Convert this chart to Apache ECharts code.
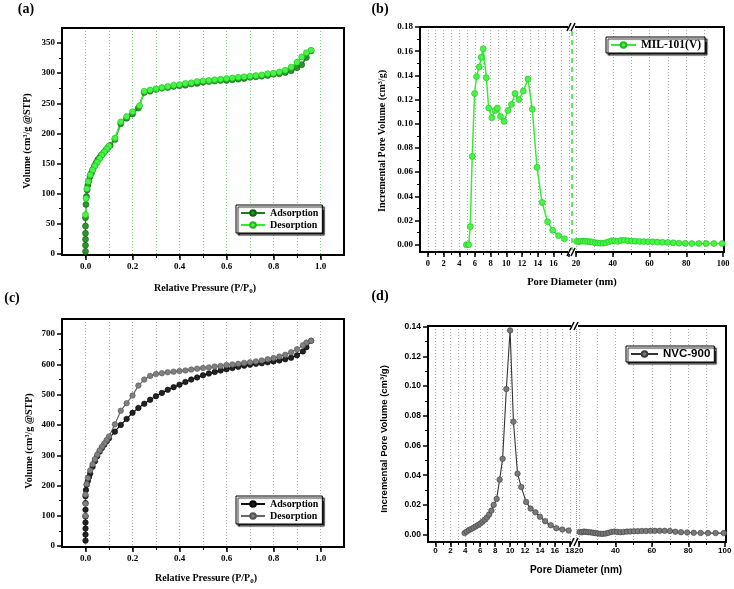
<!DOCTYPE html>
<html><head><meta charset="utf-8">
<script src="https://cdn.jsdelivr.net/npm/echarts@6/dist/echarts.min.js"></script>
<style>html,body{margin:0;padding:0;background:#fff}#c{width:734px;height:589px}</style>
</head><body><div id="c"></div>
<script>
// ================= DATA =================
// (a) MIL-101(V) N2 isotherm
const aAdsX = [0,0,0,0,0,0,0.002,0.004,0.007,0.01,0.014,0.019,0.025,0.031,0.038,0.045,0.052,0.06,0.068,0.077,0.086,0.095,0.105,0.125,0.15,0.175,0.2,0.225,0.25,0.275,0.3,0.325,0.35,0.375,0.4,0.425,0.45,0.475,0.5,0.525,0.55,0.575,0.6,0.625,0.65,0.675,0.7,0.725,0.75,0.775,0.8,0.825,0.85,0.875,0.9,0.92,0.94,0.96];
const aAdsY = [4,14,24,34,46,60,82,95,106,114,121,128,134,140,146,151,156,160,164,168,172,176,180,190,216,225,232,242,268,270,273,275,276,278,279,280,282,283,285,286,287,288,288,289,290,291,293,294,295,296,298,299,301,304,309,314,326,337];
const aDesX = [0.96,0.94,0.92,0.9,0.875,0.85,0.825,0.8,0.775,0.75,0.725,0.7,0.675,0.65,0.625,0.6,0.575,0.55,0.525,0.5,0.475,0.45,0.425,0.4,0.375,0.35,0.325,0.3,0.275,0.25,0.23,0.2,0.175,0.15,0.125,0.1,0.09,0.08,0.07,0.06,0.05,0.04,0.03,0.02,0.012,0.006,0.002,0];
const aDesY = [338,334,327,318,310,305,302,300,299,297,296,295,294,293,292,291,290,289,288,287,286,284,283,281,280,278,276,274,272,270,246,236,228,219,192,179,174,169,164,158,152,146,139,131,120,108,92,65];

// (b) MIL-101(V) pore size distribution
const bLeftX = [4.9,5.2,5.4,5.65,5.95,6.2,6.55,6.8,7.05,7.45,7.75,8.15,8.55,8.85,9.25,9.7,10.2,10.65,11.1,11.6,12.15,12.75,13.3,13.9,14.55,15.25,15.9,16.65,17.4];
const bLeftY = [0,0,0.015,0.073,0.125,0.139,0.147,0.155,0.162,0.138,0.113,0.105,0.111,0.113,0.106,0.102,0.111,0.116,0.125,0.12,0.127,0.137,0.112,0.064,0.035,0.019,0.012,0.0075,0.005];
const bRightX = [20.3,21.5,22.7,23.9,25.1,26.4,27.7,29.0,30.4,31.8,33.2,34.7,36.2,37.8,39.4,41.0,42.7,44.5,46.3,48.2,50.2,52.3,54.5,56.8,59.2,61.7,64.3,67.0,69.9,72.9,76.0,79.4,83.0,86.8,90.8,95.0,99.5];
const bRightY = [0.0028,0.0025,0.003,0.003,0.0028,0.0027,0.0025,0.0022,0.0017,0.0014,0.0013,0.0013,0.0017,0.0025,0.0033,0.0032,0.0028,0.0036,0.0038,0.0033,0.003,0.0029,0.0027,0.0026,0.0025,0.0024,0.0022,0.002,0.0019,0.0016,0.0013,0.0011,0.001,0.001,0.001,0.001,0.001];

// (c) NVC-900 N2 isotherm
const cAdsX = [0,0,0,0,0,0,0,0,0.002,0.005,0.01,0.015,0.02,0.03,0.04,0.05,0.06,0.07,0.08,0.09,0.1,0.125,0.15,0.175,0.2,0.225,0.25,0.275,0.3,0.325,0.35,0.375,0.4,0.425,0.45,0.475,0.5,0.525,0.55,0.575,0.6,0.625,0.65,0.675,0.7,0.725,0.75,0.775,0.8,0.825,0.85,0.875,0.9,0.925,0.94,0.96];
const cAdsY = [18,38,58,78,98,120,142,165,185,203,215,228,240,262,280,297,312,324,335,346,356,378,400,420,440,456,470,483,495,506,516,525,533,542,550,557,564,570,575,580,584,588,592,596,599,602,604,607,610,613,617,622,630,643,657,678];
const cDesX = [0.96,0.94,0.925,0.9,0.875,0.85,0.825,0.8,0.775,0.75,0.725,0.7,0.675,0.65,0.625,0.6,0.575,0.55,0.525,0.5,0.475,0.45,0.425,0.4,0.375,0.35,0.325,0.3,0.275,0.25,0.225,0.2,0.175,0.15,0.125,0.1,0.09,0.08,0.07,0.06,0.05,0.04,0.03,0.02,0.01,0.005,0,0,0];
const cDesY = [678,672,663,650,640,632,626,621,617,613,610,607,605,602,600,598,595,593,590,588,586,583,580,578,576,574,571,568,562,550,530,497,472,447,402,362,350,339,328,316,302,287,270,250,225,205,170,140,100];

// (d) NVC-900 pore size distribution
const dLeftX = [3.9,4.2,4.5,4.8,5.1,5.4,5.7,6.0,6.3,6.6,6.9,7.2,7.5,7.8,8.2,8.6,9.0,9.5,10.0,10.45,11.0,11.5,12.15,12.75,13.4,14.0,14.7,15.45,16.2,17.0,17.85];
const dLeftY = [0.001,0.002,0.003,0.0038,0.0046,0.0055,0.0064,0.0074,0.0086,0.01,0.0115,0.0135,0.0162,0.02,0.024,0.037,0.051,0.098,0.1375,0.076,0.041,0.032,0.022,0.0175,0.015,0.012,0.009,0.0063,0.0043,0.0034,0.0027];
const dRightX = [20.3,21.5,22.7,23.9,25.1,26.4,27.7,29.0,30.4,31.8,33.2,34.7,36.2,37.8,39.4,41.0,42.7,44.5,46.3,48.2,50.2,52.3,54.5,56.8,59.2,61.7,64.3,67.0,69.9,72.9,76.0,79.4,83.0,86.8,90.8,95.0,99.5];
const dRightY = [0.0018,0.0015,0.002,0.0018,0.0016,0.0015,0.0012,0.001,0.0007,0.0005,0.0005,0.0007,0.0012,0.0018,0.002,0.0018,0.0016,0.0018,0.002,0.0021,0.0022,0.0023,0.0024,0.0024,0.0025,0.0025,0.0025,0.0025,0.0024,0.0019,0.0016,0.0014,0.0012,0.0011,0.001,0.001,0.001];

// tick labels / ticks
const isoXMajor = [0,0.2,0.4,0.6,0.8,1.0];
const isoXMinor = [0,0.1,0.2,0.3,0.4,0.5,0.6,0.7,0.8,0.9,1.0];
const aYMajor = [0,50,100,150,200,250,300,350];
const aYMinor = [25,75,125,175,225,275,325];
const cYMajor = [0,100,200,300,400,500,600,700];
const cYMinor = [50,150,250,350,450,550,650];
const bYMajor = [0,0.02,0.04,0.06,0.08,0.10,0.12,0.14,0.16,0.18];
const bYMinor = [0.01,0.03,0.05,0.07,0.09,0.11,0.13,0.15,0.17];
const dYMajor = [0,0.02,0.04,0.06,0.08,0.10,0.12,0.14];
const dYMinor = [0.01,0.03,0.05,0.07,0.09,0.11,0.13];
const poreLeftTicks = [0,2,4,6,8,10,12,14,16,18];
const bPoreLeftLabels = [0,2,4,6,8,10,12,14,16];
const dPoreLeftLabels = [0,2,4,6,8,10,12,14,16,18];
const poreLeftMinor = [0,1,2,3,4,5,6,7,8,9,10,11,12,13,14,15,16,17,18];
const poreRightTicks = [20,40,60,80,100];
const poreRightMinor = [20,30,40,50,60,70,80,90];

// ================= CHART =================
const SERIF = "'Liberation Serif','Times New Roman',serif";
const SANS = "'Liberation Sans',Arial,sans-serif";
const xAxes = [], yAxes = [];

function xSet(gi, o) {
  const base = {gridIndex: gi, type: 'value', min: o.min, max: o.max, position: 'bottom'};
  const i = xAxes.length;
  xAxes.push(Object.assign({}, base, {
    axisLine: {show: true, onZero: false, lineStyle: {color: '#000', width: 2}},
    axisTick: {show: true, inside: false, length: 5, customValues: o.major, lineStyle: {color: '#000', width: 1.5}},
    axisLabel: {show: true, customValues: o.labels, formatter: o.fmt, margin: o.margin || 7, color: '#000',
      fontFamily: o.font, fontWeight: 'bold', fontSize: o.fs || 9},
    splitLine: {show: false}
  }));
  xAxes.push(Object.assign({}, base, {
    axisLine: {show: false, onZero: false},
    axisTick: {show: true, inside: false, length: 3, customValues: o.minor, lineStyle: {color: '#000', width: 1}},
    axisLabel: {show: false},
    splitLine: {show: true, lineStyle: {color: o.gridColor, type: [1, 2], width: 1}}
  }));
  xAxes.push(Object.assign({}, base, {
    position: 'top',
    axisLine: {show: true, onZero: false, lineStyle: {color: '#000', width: 2}},
    axisTick: {show: false}, axisLabel: {show: false}, splitLine: {show: false}
  }));
  return i;
}
function ySet(gi, o) {
  const base = {gridIndex: gi, type: 'value', min: o.min, max: o.max};
  const i = yAxes.length;
  if (o.left) {
    yAxes.push(Object.assign({}, base, {
      position: 'left',
      axisLine: {show: true, onZero: false, lineStyle: {color: '#000', width: 2}},
      axisTick: {show: true, inside: false, length: 5, customValues: o.major, lineStyle: {color: '#000', width: 1.5}},
      axisLabel: {show: true, customValues: o.major, formatter: o.fmt, margin: 7, color: '#000',
        fontFamily: o.font, fontWeight: 'bold', fontSize: o.fs || 9},
      splitLine: {show: false}
    }));
    yAxes.push(Object.assign({}, base, {
      position: 'left',
      axisLine: {show: false, onZero: false},
      axisTick: {show: true, inside: false, length: 3, customValues: o.minor, lineStyle: {color: '#000', width: 1}},
      axisLabel: {show: false}, splitLine: {show: false}
    }));
    if (o.right) {
      yAxes.push(Object.assign({}, base, {
        position: 'right',
        axisLine: {show: true, onZero: false, lineStyle: {color: '#000', width: 2}},
        axisTick: {show: false}, axisLabel: {show: false}, splitLine: {show: false}
      }));
    }
  } else {
    yAxes.push(Object.assign({}, base, {
      position: 'right',
      axisLine: {show: true, onZero: false, lineStyle: {color: '#000', width: 2}},
      axisTick: {show: false}, axisLabel: {show: false}, splitLine: {show: false}
    }));
  }
  return i;
}

const grids = [
  {left: 62, top: 28, width: 282, height: 227},   // a
  {left: 420, top: 27, width: 152, height: 225},  // b left
  {left: 572, top: 27, width: 152, height: 225},  // b right
  {left: 62, top: 319, width: 282, height: 228},  // c
  {left: 428, top: 326, width: 147, height: 216}, // d left
  {left: 575, top: 326, width: 151, height: 216}  // d right
].map(g => Object.assign({outerBoundsMode: 'none', containLabel: false}, g));

const f1 = v => Number(v).toFixed(1);
const f0 = v => String(Math.round(v));
const f2 = v => Number(v).toFixed(2);

// (a)
const ax = xSet(0, {min: -0.1, max: 1.1, major: isoXMajor, labels: isoXMajor, minor: isoXMinor, fmt: f1, font: SERIF, gridColor: '#78d878'});
const ay = ySet(0, {min: -2, max: 375, major: aYMajor, minor: aYMinor, fmt: f0, font: SERIF, left: true, right: true});
// (b)
const bxl = xSet(1, {min: -1, max: 18.36, major: poreLeftTicks, labels: bPoreLeftLabels, minor: poreLeftMinor, fmt: f0, font: SERIF, gridColor: '#a8a8a8', fs: 8.5});
const byl = ySet(1, {min: -0.006, max: 0.18, major: bYMajor, minor: bYMinor, fmt: f2, font: SERIF, left: true, right: false});
const bxr = xSet(2, {min: 17.8, max: 100.5, major: poreRightTicks, labels: poreRightTicks, minor: poreRightMinor, fmt: f0, font: SERIF, gridColor: '#a8a8a8', fs: 8.5});
const byr = ySet(2, {min: -0.006, max: 0.18, left: false});
// (c)
const cx = xSet(3, {min: -0.1, max: 1.1, major: isoXMajor, labels: isoXMajor, minor: isoXMinor, fmt: f1, font: SERIF, gridColor: '#b0b0b0'});
const cy = ySet(3, {min: -3, max: 750, major: cYMajor, minor: cYMinor, fmt: f0, font: SERIF, left: true, right: true});
// (d)
const dxl = xSet(4, {min: -1, max: 18.7, major: poreLeftTicks, labels: dPoreLeftLabels, minor: poreLeftMinor, fmt: f0, font: SANS, gridColor: '#a8a8a8', margin: 5, fs: 8});
const dyl = ySet(4, {min: -0.005, max: 0.1405, major: dYMajor, minor: dYMinor, fmt: f2, font: SANS, left: true, right: false, fs: 8.5});
const dxr = xSet(5, {min: 17.8, max: 100.7, major: poreRightTicks, labels: poreRightTicks, minor: poreRightMinor, fmt: f0, font: SANS, gridColor: '#a8a8a8', margin: 5, fs: 8});
const dyr = ySet(5, {min: -0.005, max: 0.1405, left: false});

const pairs = (xs, ys) => xs.map((x, i) => [x, ys[i]]);
function line(name, xi, yi, xs, ys, c) {
  return {
    name, type: 'line', xAxisIndex: xi, yAxisIndex: yi, data: pairs(xs, ys),
    symbol: 'circle', symbolSize: c.size || 6, showAllSymbol: true, animation: false,
    lineStyle: {color: c.line, width: c.lw || 1.5},
    itemStyle: {color: c.fill, borderColor: c.border, borderWidth: 0.6},
    emphasis: {disabled: true}, z: 3
  };
}

const ADS_A = {line: '#1b7f1b', fill: '#2a962a', border: '#0f5f0f', size: 6};
const DES_A = {line: '#2eef2e', fill: '#44f744', border: '#1fb81f', size: 6};
const MIL = {line: '#33ee33', fill: '#44f744', border: '#22b822', size: 6};
const ADS_C = {line: '#111', fill: '#222', border: '#000', size: 5.5, lw: 1.2};
const DES_C = {line: '#666', fill: '#808080', border: '#555', size: 5.5, lw: 1.2};
const NVC = {line: '#333', fill: '#7a7a7a', border: '#3a3a3a', size: 5.5, lw: 1.1};

const series = [
  line('Adsorption', ax, ay, aAdsX, aAdsY, ADS_A),
  line('Desorption', ax, ay, aDesX, aDesY, DES_A),
  Object.assign(line('MIL-101(V)', bxl, byl, bLeftX, bLeftY, MIL), {
    markLine: {silent: true, symbol: 'none', label: {show: false}, animation: false,
      lineStyle: {color: '#33dd33', type: [5, 4], width: 1.5}, data: [{xAxis: 18.3}]}
  }),
  line('MIL-101(V)', bxr, byr, bRightX, bRightY, MIL),
  line('Adsorption ', cx, cy, cAdsX, cAdsY, ADS_C),
  line('Desorption ', cx, cy, cDesX, cDesY, DES_C),
  line('NVC-900', dxl, dyl, dLeftX, dLeftY, NVC),
  Object.assign(line('NVC-900', dxr, dyr, dRightX, dRightY, NVC), {
    markLine: {silent: true, symbol: 'none', label: {show: false}, animation: false,
      lineStyle: {color: '#999', type: 'dotted', width: 1}, data: [{xAxis: 18.35}]}
  })
];

function legend(names, left, top, font, fs, iw, pad) {
  return {
    data: names, left, top, orient: 'vertical', selectedMode: false,
    itemWidth: iw, itemHeight: 7, itemGap: 2, padding: pad,
    formatter: n => n.trim(),
    textStyle: {fontFamily: font, fontWeight: 'bold', fontSize: fs, color: '#000'},
    backgroundColor: '#fff', borderColor: '#000', borderWidth: 1,
    shadowColor: 'rgba(0,0,0,0.85)', shadowBlur: 1, shadowOffsetX: 2, shadowOffsetY: 2
  };
}

function txt(text, x, y, font, size, rot, rich) {
  const el = {type: 'text', x, y, rotation: rot || 0, z: 50,
    style: {text, fontFamily: font, fontWeight: 'bold', fontSize: size, fill: '#000', align: 'center', verticalAlign: 'middle'}};
  if (rich) el.style.rich = rich;
  return el;
}
function relP(x, y) {
  const r = {
    a: {fontFamily: SERIF, fontWeight: 'bold', fontSize: 10, lineHeight: 14, verticalAlign: 'middle', fill: '#000'},
    s: {fontFamily: SERIF, fontWeight: 'bold', fontSize: 7, lineHeight: 14, verticalAlign: 'bottom', fill: '#000'}
  };
  return txt('{a|Relative Pressure (P/P}{s|0}{a|)}', x, y, SERIF, 10, 0, r);
}
function brk(x, y) {
  return [
    {type: 'rect', z: 60, shape: {x: x - 4, y: y - 2, width: 7, height: 4}, style: {fill: '#fff'}},
    {type: 'line', z: 61, shape: {x1: x - 5, y1: y + 4, x2: x - 1, y2: y - 4}, style: {stroke: '#000', lineWidth: 1.6}},
    {type: 'line', z: 61, shape: {x1: x - 1, y1: y + 4, x2: x + 3, y2: y - 4}, style: {stroke: '#000', lineWidth: 1.6}}
  ];
}

const graphic = [
  txt('(a)', 26, 9, SERIF, 14),
  txt('(b)', 380, 9, SERIF, 14),
  txt('(c)', 12, 298, SERIF, 14),
  txt('(d)', 380, 296, SERIF, 14),
  txt('Volume (cm³/g @STP)', 27, 141, SERIF, 10, Math.PI / 2),
  relP(205, 288),
  txt('Incremental Pore Volume (cm³/g)', 382, 141, SERIF, 10, Math.PI / 2),
  txt('Pore Diameter (nm)', 572, 282, SERIF, 10.5),
  txt('Volume (cm³/g @STP)', 29, 441, SERIF, 10, Math.PI / 2),
  relP(206, 578),
  txt('Incremental Pore Volume (cm³/g)', 384, 439, SANS, 9.5, Math.PI / 2),
  txt('Pore Diameter (nm)', 576, 570, SANS, 10)
].concat(brk(572, 27), brk(572, 252), brk(575, 326), brk(575, 542));

const option = {
  animation: false,
  backgroundColor: '#fff',
  grid: grids,
  xAxis: xAxes,
  yAxis: yAxes,
  series,
  legend: [
    legend(['Adsorption', 'Desorption'], 236, 205, SERIF, 10, 24, [3, 4, 3, 4]),
    legend(['MIL-101(V)'], 606, 37, SERIF, 11.5, 25, [2, 4, 2, 4]),
    legend(['Adsorption ', 'Desorption '], 236, 496, SERIF, 10, 24, [3, 4, 3, 4]),
    legend(['NVC-900'], 626, 346, SANS, 11.5, 27, [2, 4, 2, 4])
  ],
  graphic
};

const chart = echarts.init(document.getElementById('c'), null, {renderer: 'canvas'});
chart.setOption(option);
</script></body></html>
